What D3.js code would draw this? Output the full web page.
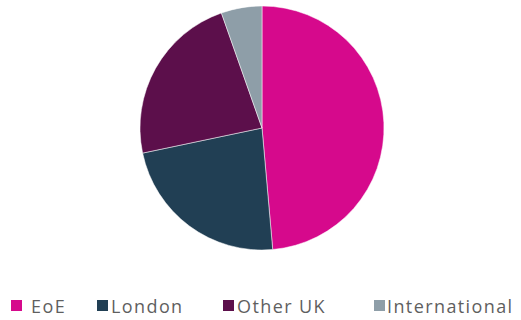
<!DOCTYPE html>
<html>
<head>
<meta charset="utf-8">
<script src="https://d3js.org/d3.v7.min.js"></script>
<style>
  body { margin: 0; background: #fff; }
  .legend text { font: 18px "Open Sans", sans-serif; fill: #5f5f5f; letter-spacing: 1.4px; }
</style>
</head>
<body>
<svg id="chart" width="521" height="320"></svg>
<script>
var categories = ["EoE", "London", "Other UK", "International"];
var shares = [48.6, 23.1, 22.9, 5.4];
var colours = ["#D6098C", "#213F54", "#5C0F4B", "#8E9EA8"];

var svg = d3.select("#chart");
var cx = 262, cy = 128, r = 122;

var pie = d3.pie().sort(null).value(function(d) { return d; });
var arc = d3.arc().innerRadius(0).outerRadius(r);

svg.append("g")
  .attr("transform", "translate(" + cx + "," + cy + ")")
  .selectAll("path")
  .data(pie(shares))
  .enter()
  .append("path")
    .attr("d", arc)
    .attr("fill", function(d, i) { return colours[i]; })
    .attr("stroke", "#fff")
    .attr("stroke-width", 0.5);

// legend: square + label, positions
var boxX = [11, 97, 223, 374];
var textX = [31, 111, 237, 387];
var legend = svg.append("g").attr("class", "legend");
var item = legend.selectAll("g")
  .data(categories)
  .enter()
  .append("g");
item.append("rect")
  .attr("x", function(d, i) { return boxX[i]; })
  .attr("y", 300)
  .attr("width", 11).attr("height", 11)
  .attr("fill", function(d, i) { return colours[i]; });
item.append("text")
  .attr("x", function(d, i) { return textX[i]; })
  .attr("y", 313)
  .text(function(d) { return d; });
</script>
</body>
</html>
